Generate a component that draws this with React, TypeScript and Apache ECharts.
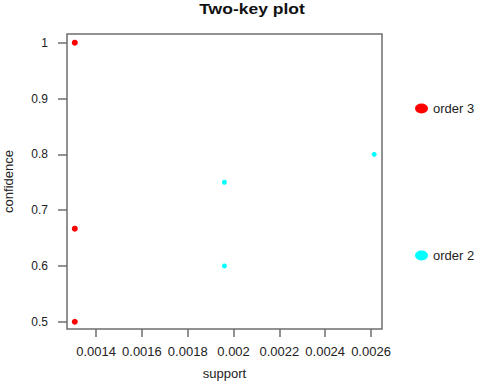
import React, { useEffect, useRef } from "react";
import * as echarts from "echarts";

const titleText = "Two-key plot";
const xName = "support";
const yName = "confidence";
const xTicks = [0.0014, 0.0016, 0.0018, 0.002, 0.0022, 0.0024, 0.0026];
const yTicks = [0.5, 0.6, 0.7, 0.8, 0.9, 1];

const order2Support = [0.001307, 0.001307, 0.00196, 0.00196, 0.002614];
const order2Confidence = [1, 0.5, 0.75, 0.6, 0.8];
const order3Support = [0.001307, 0.001307, 0.001307];
const order3Confidence = [1, 0.6667, 0.5];

const zip = (a: number[], b: number[]) => a.map((v, i) => [v, b[i]]);

export default function App() {
  const ref = useRef<HTMLDivElement>(null);
  useEffect(() => {
    if (!ref.current) return;
    const chart = echarts.init(ref.current, null, { renderer: "svg" });
    const font = "Liberation Sans, Arial, sans-serif";
    const boxColor = "#6e6e6e";
    chart.setOption({
      animation: false,
      backgroundColor: "#ffffff",
      textStyle: { fontFamily: font },
      graphic: [
        {
          type: "text",
          x: 252,
          y: 9,
          scaleX: 1.25,
          style: {
            text: titleText,
            fontFamily: font,
            fontSize: 14,
            fontWeight: "bold",
            fill: "#111",
            align: "center",
            verticalAlign: "middle",
          },
        },
      ],
      grid: {
        left: 67,
        right: 98,
        top: 34,
        bottom: 53,
        containLabel: false,
        outerBoundsMode: "none",
        show: true,
        borderColor: boxColor,
        borderWidth: 1.5,
        backgroundColor: "transparent",
      },
      legend: {
        orient: "vertical",
        left: 410,
        top: 97,
        itemWidth: 13,
        itemHeight: 11,
        itemGap: 134,
        icon: "path://M0 5a6.5 5 0 1 0 13 0a6.5 5 0 1 0 -13 0z",
        data: ["order 3", "order 2"],
        itemStyle: { opacity: 1 },
        textStyle: { fontSize: 13, color: "#222", fontFamily: font },
      },
      xAxis: {
        type: "value",
        min: 0.001273,
        max: 0.002648,
        name: xName,
        nameLocation: "middle",
        nameGap: 38,
        nameTextStyle: { fontSize: 13, color: "#222", fontFamily: font },
        axisLine: { show: false },
        splitLine: { show: false },
        axisTick: {
          show: true,
          length: 8,
          customValues: xTicks,
          lineStyle: { color: boxColor, width: 1.5 },
        },
        axisLabel: {
          customValues: xTicks,
          margin: 16,
          fontSize: 13,
          color: "#222",
          fontFamily: font,
          formatter: (v: number) => String(+v.toFixed(5)),
        },
      },
      yAxis: {
        type: "value",
        min: 0.487,
        max: 1.0156,
        name: yName,
        nameLocation: "middle",
        nameGap: 52,
        nameTextStyle: { fontSize: 13, color: "#222", fontFamily: font },
        axisLine: { show: false },
        splitLine: { show: false },
        axisTick: {
          show: true,
          length: 9,
          customValues: yTicks,
          lineStyle: { color: boxColor, width: 1.5 },
        },
        axisLabel: {
          customValues: yTicks,
          margin: 19,
          fontSize: 12,
          color: "#222",
          fontFamily: font,
          formatter: (v: number) => String(+v.toFixed(2)),
        },
      },
      series: [
        {
          name: "order 2",
          type: "scatter",
          data: zip(order2Support, order2Confidence),
          symbol: "circle",
          symbolSize: 5,
          itemStyle: { color: "#00ffff", opacity: 1 },
          z: 2,
        },
        {
          name: "order 3",
          type: "scatter",
          data: zip(order3Support, order3Confidence),
          symbol: "circle",
          symbolSize: 6,
          itemStyle: { color: "#ff0000", opacity: 1 },
          z: 3,
        },
      ],
    });
    return () => chart.dispose();
  }, []);
  return (
    <div
      ref={ref}
      style={{ width: 480, height: 382, position: "absolute", left: 0, top: 0 }}
    />
  );
}
